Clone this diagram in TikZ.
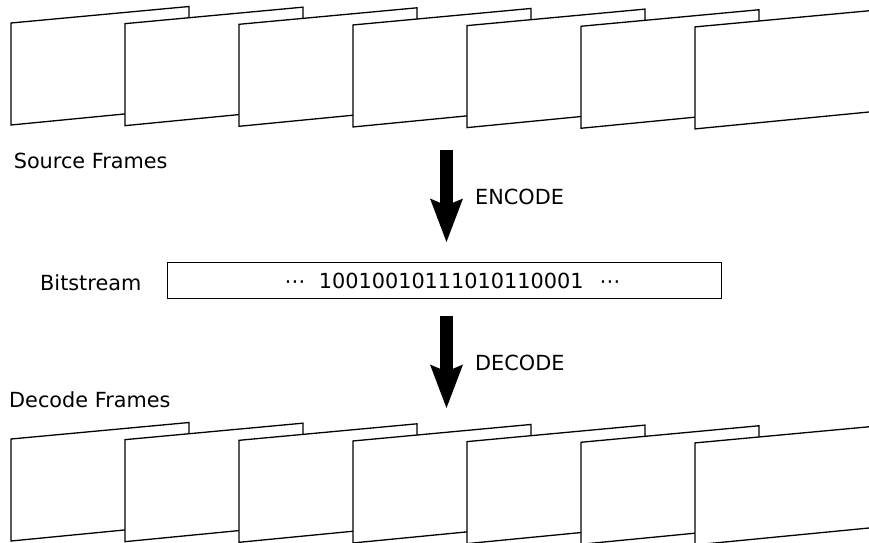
\documentclass[tikz,border=0pt]{standalone}
\usepackage{fontspec}
\setmainfont{DejaVu Sans}
\usetikzlibrary{arrows.meta}
\begin{document}
\begin{tikzpicture}[x=1pt,y=-1pt,
  frame/.style={draw=black, fill=white, line width=1.3pt, line join=miter},
  lbl/.style={anchor=base west, inner sep=0pt, font=\fontsize{20.8}{24}\selectfont, text=black},
  streambox/.style={draw=black, line width=1.3pt, fill=white, anchor=north west,
    minimum width=554pt, minimum height=36pt, inner sep=0pt},
  bigarrow/.style={line width=13pt,
    -{Stealth[length=43.5pt,width=33pt,inset=7pt,line width=0pt]}}
]
\useasboundingbox (0,0) rectangle (869,542);

% two rows of slanted frames, each one laid over the previous one
\foreach \row in {0,416}{
  \foreach \i in {0,...,6}{
    \pgfmathsetmacro\fx{11+114*\i}
    \pgfmathsetmacro\fy{23+0.65*\i+\row}
    \filldraw[frame] (\fx,\fy) -- ++(178,-16.5) -- ++(0,101.2) -- (\fx,\fy+102) -- cycle;
  }
}

% labels
\node[lbl] (src) at (13.6,168) {Source Frames};
\node[lbl] (dec) at (9,407) {Decode Frames};
\node[lbl] (bitlbl) at (40,290.5) {Bitstream};
\node[lbl] (enclbl) at (475,204) {ENCODE};
\node[lbl] (declbl) at (475,370) {DECODE};

% bitstream box and its contents
\node[streambox] (stream) at (167,261.5) {};
\node[lbl] (dotsl) at (284.3,288) {⋯};
\node[lbl] (bits) at (318.7,288) {10010010111010110001};
\node[lbl] (dotsr) at (599.5,288) {⋯};

% encode / decode arrows
\coordinate (encA) at (446.5,150);
\coordinate (encB) at (446.5,242);
\coordinate (decA) at (446.5,316);
\coordinate (decB) at (446.5,408);
\draw[bigarrow] (encA) -- (encB);
\draw[bigarrow] (decA) -- (decB);
\end{tikzpicture}
\end{document}
